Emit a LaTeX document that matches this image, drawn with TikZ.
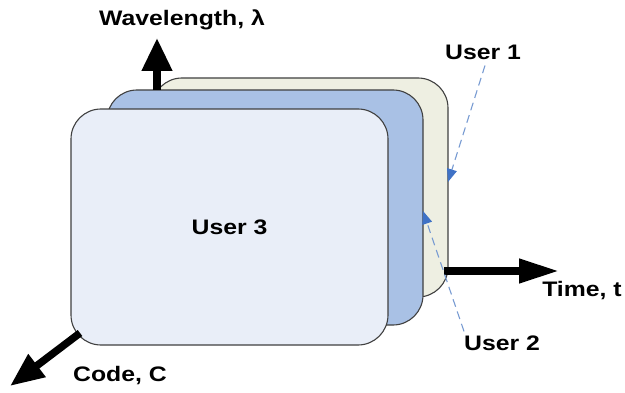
\documentclass[tikz,border=0pt]{standalone}
\usepackage{fontspec}
\setmainfont{Liberation Sans}
\usepackage{tikz}
\usetikzlibrary{arrows.meta, positioning}

\definecolor{userone}{RGB}{238,239,226}
\definecolor{usertwo}{RGB}{169,193,229}
\definecolor{userthree}{RGB}{233,238,248}
\definecolor{pointer}{RGB}{63,114,198}
\definecolor{pointerline}{RGB}{120,155,210}

\newcommand{\widetxt}[1]{\scalebox{1.18}[1]{#1}}

\tikzset{
  card/.style={draw=black!75, line width=1.1pt, rounded corners=30pt, inner sep=0pt},
  axis/.style={line width=7.5pt, -{Triangle[length=33pt,width=29pt]}},
  lbl/.style={font=\bfseries\fontsize{21}{24}\selectfont, inner sep=0pt},
  pointto/.style={pointerline, line width=1.1pt, dash pattern=on 8pt off 5pt,
    -{Triangle[length=13pt,width=10pt,color=pointer]}}
}

\begin{document}
\begin{tikzpicture}[x=1pt,y=1pt]
	\useasboundingbox (0,0) rectangle (625,392);
	% the three stacked users, back to front
	\node[card, fill=userone,   minimum width=296pt, minimum height=219pt] (card1) at (300,204.5) {};
	\node[card, fill=usertwo,   minimum width=316pt, minimum height=235pt] (card2) at (265,184.5) {};
	\node[card, fill=userthree, minimum width=317pt, minimum height=236pt] (card3) at (229.5,165) {};
	\node[lbl] (u3) at (card3.center) {\widetxt{User 3}};

	% axes
	\coordinate (lamO) at (157,302);
	\coordinate (lamT) at (157,354);
	\coordinate (timO) at (444,121);
	\coordinate (timT) at (559,121);
	\coordinate (codO) at (80,59);
	\coordinate (codT) at (10,6);
	\draw[axis] (lamO) -- (lamT);
	\draw[axis, -{Triangle[length=40pt,width=23pt]}] (timO) -- (timT);
	\draw[axis, -{Triangle[length=34pt,width=27pt]}] (codO) -- (codT);

	\node[lbl] (lam) at (182,372) {\widetxt{Wavelength, λ}};
	\node[lbl] (tim) at (582,101) {\widetxt{Time, t}};
	\node[lbl] (cod) at (120,16)  {\widetxt{Code, C}};

	% user labels with dashed pointers
	\node[lbl] (u1) at (483,340) {\widetxt{User 1}};
	\node[lbl] (u2) at (502,49)  {\widetxt{User 2}};
	\coordinate (p1) at (448,210);
	\coordinate (p2) at (423,181);
	\draw[pointto] (u1.south) ++(2,-6) -- (p1);
	\draw[pointto] (u2.north) ++(-38,4) -- (p2);
\end{tikzpicture}
\end{document}
